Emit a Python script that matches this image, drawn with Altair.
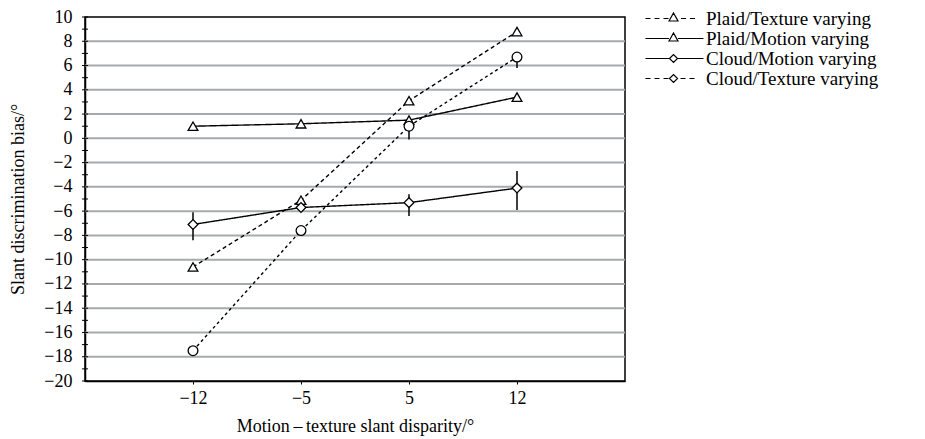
import altair as alt
import pandas as pd

# ---------------- data ----------------
x_labels = ["-12", "-5", "5", "12"]
series_names = ["Plaid/Texture varying", "Plaid/Motion varying",
                "Cloud/Motion varying", "Cloud/Texture varying"]

plaid_texture = [-10.6, -5.1, 3.1, 8.8]
plaid_motion = [1.0, 1.2, 1.5, 3.4]
cloud_motion = [-7.1, -5.7, -5.3, -4.1]
cloud_texture = [-17.5, -7.6, 1.0, 6.7]

cloud_motion_lo = [-8.4, -5.7, -6.4, -5.9]
cloud_motion_hi = [-6.1, -5.7, -4.6, -2.7]
cloud_texture_lo = [-17.5, -7.6, -0.1, 5.8]
cloud_texture_hi = [-17.5, -7.6, 1.0, 6.7]

y_tick_values = list(range(-20, 11, 2))
grid_values = list(range(-18, 9, 2))
minor_tick_values = list(range(-20, 11, 1))

# ---------------- tables ----------------
rows = []
for name, vals, lo, hi in [
    (series_names[0], plaid_texture, plaid_texture, plaid_texture),
    (series_names[1], plaid_motion, plaid_motion, plaid_motion),
    (series_names[2], cloud_motion, cloud_motion_lo, cloud_motion_hi),
    (series_names[3], cloud_texture, cloud_texture_lo, cloud_texture_hi),
]:
    for i, xl in enumerate(x_labels):
        rows.append({"series": name, "x": xl, "y": vals[i],
                     "lo": lo[i], "hi": hi[i], "idx": i})
df = pd.DataFrame(rows)
df_err = df[df["series"].str.startswith("Cloud")]
grid_df = pd.DataFrame({"g": grid_values})
minor_df = pd.DataFrame({"t": minor_tick_values})

# ---------------- legend symbol paths (style) ----------------
LEG_SIZE = 100  # sqrt/2 = 5 px per unit
U = 5.0


def u(v):
    return f"{v / U:.4f}"


def tri(cx):
    return (f"M{u(cx - 4.5)},{u(2.5)}L{u(cx)},{u(-5.5)}L{u(cx + 4.5)},{u(2.5)}Z")


def dia(cx):
    return (f"M{u(cx - 4)},0L{u(cx)},{u(-4)}L{u(cx + 4)},0L{u(cx)},{u(4)}Z")


def dashed(cx, half):
    segs = []
    for a, b in [(-29, -24), (-20, -15), (-11, -6)]:
        segs.append(f"M{u(a)},0L{u(b)},0")
    for a, b in [(cx + half + 3, cx + half + 8), (cx + half + 12, cx + half + 17)]:
        segs.append(f"M{u(a)},0L{u(b)},0")
    return "".join(segs)


def solid(cx, half):
    return f"M{u(-29)},0L{u(cx - half)},0M{u(cx + half)},0L{u(29)},0"


mc = -1.0
legend_paths = [
    dashed(mc, 4.5) + tri(mc),
    solid(mc, 4.5) + tri(mc),
    solid(mc, 4) + dia(mc),
    dashed(mc, 4) + dia(mc),
]

# ---------------- chart ----------------
FONT = "Liberation Serif"
minus_expr = "replace(datum.label, '-', '\u2212')"

x_axis = alt.Axis(title="Motion\u2009\u2013\u2009texture slant disparity/\u00b0",
                  labelExpr=minus_expr, labelAngle=0, tickSize=3,
                  tickColor="black", domainColor="black", domainWidth=1.5,
                  labelPadding=5, titlePadding=10, grid=False)
x_scale = alt.Scale(type="point", domain=x_labels, padding=1)
y_axis = alt.Axis(title="Slant discrimination bias/\u00b0",
                  values=y_tick_values, labelExpr=minus_expr,
                  labelOverlap=False, labelSeparation=0,
                  ticks=False, grid=False, domainColor="black",
                  domainWidth=1.5, labelPadding=13, titlePadding=16)
y_scale = alt.Scale(domain=[-20, 10], nice=False, zero=False)


def X(field="x:O"):
    return alt.X(field, scale=x_scale, sort=x_labels, axis=x_axis)


def Y(field):
    return alt.Y(field, scale=y_scale, axis=y_axis)


grid = alt.Chart(grid_df).mark_rule(color="#a6aaae", strokeWidth=2).encode(
    y=Y("g:Q"),
)

minor = alt.Chart(minor_df).mark_tick(orient="horizontal", size=6, thickness=1,
                                      color="black", opacity=1).encode(
    x=alt.value(0),
    y=Y("t:Q"),
)

errs = alt.Chart(df_err).mark_rule(color="black", strokeWidth=1.5).encode(
    x=X(),
    y=Y("lo:Q"),
    y2="hi:Q",
)

lines = alt.Chart(df).mark_line(color="black", strokeWidth=1.4).encode(
    x=X(),
    y=Y("y:Q"),
    detail="series:N",
    order="idx:Q",
    strokeDash=alt.StrokeDash("series:N",
                              scale=alt.Scale(domain=series_names,
                                              range=[[4, 3], [1, 0], [1, 0], [3, 3]]),
                              legend=None),
)

points = alt.Chart(df).mark_point(filled=True, fill="white", stroke="black",
                                  strokeWidth=1.3, opacity=1).encode(
    x=X(),
    y=Y("y:Q"),
    shape=alt.Shape("series:N",
                    scale=alt.Scale(domain=series_names,
                                    range=["triangle-up", "triangle-up", "diamond", "circle"]),
                    legend=None),
    size=alt.Size("series:N",
                  scale=alt.Scale(domain=series_names, range=[95, 95, 80, 45]),
                  legend=None),
)

legend_layer = alt.Chart(df).transform_filter("false").mark_point(
    filled=False, stroke="black", strokeWidth=1.2,
    opacity=1, size=LEG_SIZE).encode(
    x=X(),
    y=Y("y:Q"),
    shape=alt.Shape("series:N",
                    scale=alt.Scale(domain=series_names, range=legend_paths),
                    legend=alt.Legend(title=None, orient="none",
                                      legendX=580, legendY=-8,
                                      labelFont=FONT, labelFontSize=19,
                                      labelColor="black", labelLimit=0,
                                      labelOffset=22, rowPadding=-1,
                                      symbolSize=LEG_SIZE,
                                      symbolStrokeWidth=1.2,
                                      symbolStrokeColor="black")),
)

chart = alt.layer(grid, minor, errs, lines, points, legend_layer).resolve_scale(
    shape="independent"
).properties(
    width=540, height=364,
    autosize=alt.AutoSizeParams(type="none"),
    padding={"left": 77, "top": 9, "right": 290, "bottom": 60},
).configure_view(
    stroke="black", strokeWidth=1.5
).configure_axis(
    labelFont=FONT, labelFontSize=18, labelColor="black",
    titleFont=FONT, titleFontSize=18, titleFontWeight="normal", titleColor="black",
).configure_axisY(
    labelOverlap=False
)

chart.save("out.html", embed_options={"renderer": "svg", "actions": False})
